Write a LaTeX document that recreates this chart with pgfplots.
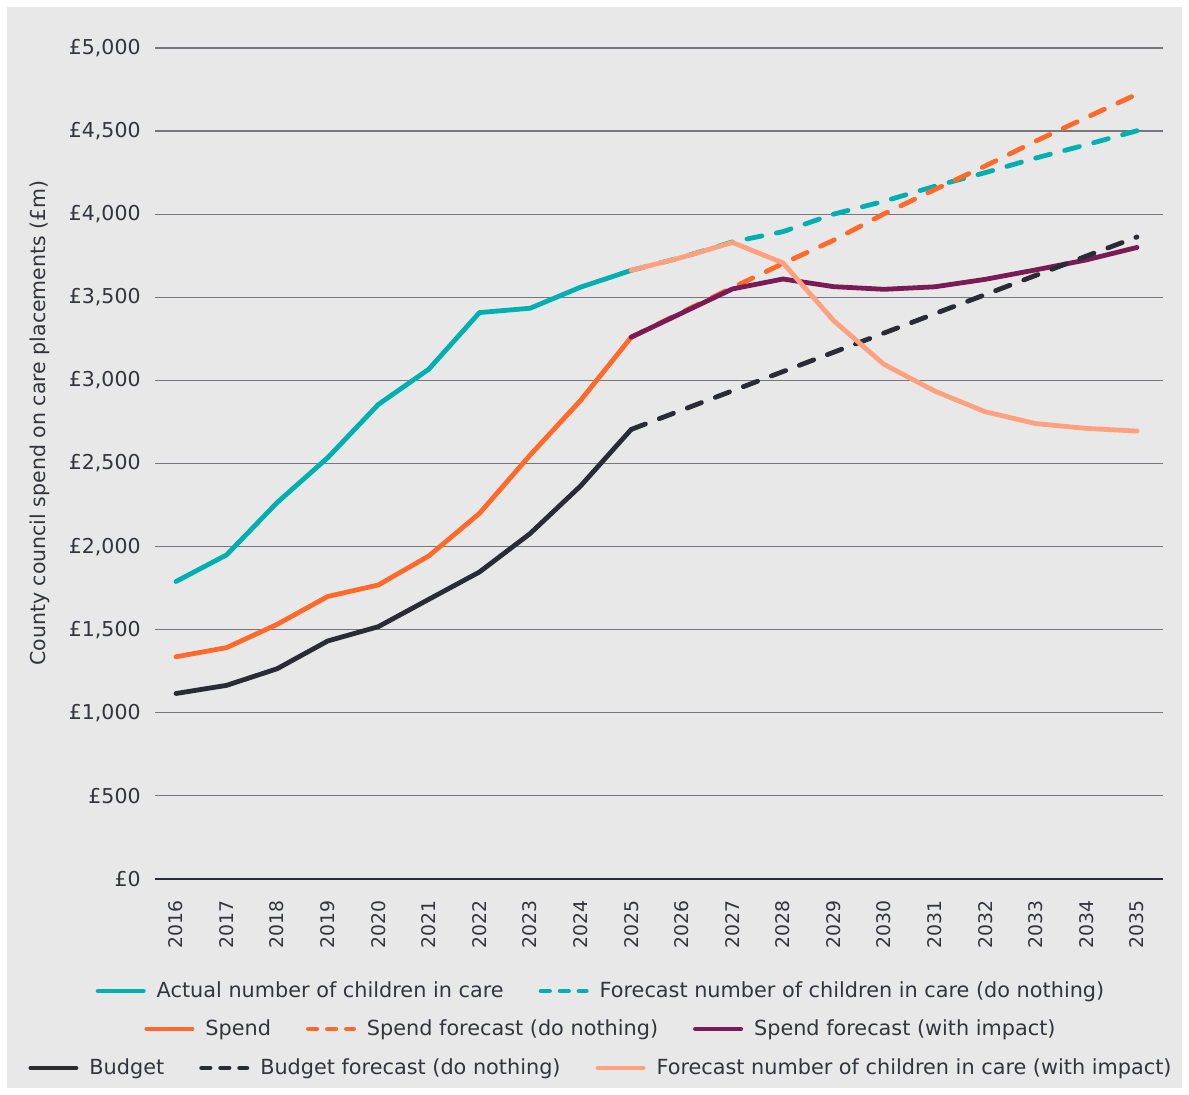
\documentclass[border=0pt]{standalone}
\usepackage{fontspec}
\setmainfont{DejaVu Sans}
\usepackage{pgfplots}
\pgfplotsset{compat=1.18}
\definecolor{cteal}{HTML}{00B0B0}
\definecolor{corange}{HTML}{FF6A2B}
\definecolor{cpurple}{HTML}{7A1B55}
\definecolor{cdark}{HTML}{2A2C35}
\definecolor{csalmon}{HTML}{FFA07E}
\definecolor{cbg}{HTML}{E8E8E8}
\definecolor{cgrid}{HTML}{76777C}
\definecolor{ctext}{HTML}{33353D}
\pgfplotsset{
  legrow/.style={hide axis, scale only axis, width=1pt, height=1pt,
    xmin=0, xmax=1, ymin=0, ymax=1, anchor=center,
    legend style={at={(0.5,0.5)}, anchor=center, draw=none, fill=none,
      legend columns=-1, font=\fontsize{10.4}{12}\selectfont, text=ctext,
      nodes={inner sep=0pt},
      /tikz/every odd column/.append style={column sep=5.5pt},
      /tikz/every even column/.append style={column sep=17.5pt}},
    legend image code/.code={\draw[##1] (1.2pt,0pt) -- (23.8pt,0pt);}},
  ln/.style={line width=2.4pt, line cap=round, line join=round},
  dl/.style={ln, dash pattern=on 4.2pt off 5.3pt},
  dp/.style={ln, dash pattern=on 7.6pt off 7.4pt},
}
\begin{document}
\begin{tikzpicture}[x=1pt,y=1pt]
\useasboundingbox (0,0) rectangle (594.5,547.5);
\fill[white] (0,0) rectangle (594.5,547.5);
\fill[cbg] (3.5,3.5) rectangle (591,544);
\node[rotate=90, text=ctext, font=\fontsize{10.25}{12}\selectfont] at (20,336) {County council spend on care placements (£m)};
\begin{axis}[
  at={(77.5pt,108pt)}, anchor=south west,
  scale only axis, width=504pt, height=415.5pt,
  xmin=2015.585, xmax=2035.514, ymin=0, ymax=5000,
  axis line style={draw=none}, major tick length=0pt,
  ytick={0,500,...,5000},
  yticklabels={£0,£500,{£1,000},{£1,500},{£2,000},{£2,500},{£3,000},{£3,500},{£4,000},{£4,500},{£5,000}},
  xtick={2016,...,2035},
  xticklabels={2016,2017,2018,2019,2020,2021,2022,2023,2024,2025,2026,2027,2028,2029,2030,2031,2032,2033,2034,2035},
  yticklabel style={anchor=east, inner sep=0pt, text=ctext, font=\fontsize{10.25}{12}\selectfont},
  yticklabel shift=7pt,
  xticklabel style={rotate=90, anchor=east, inner sep=0pt, text=ctext, font=\fontsize{9.4}{11}\selectfont},
  xticklabel shift=10.5pt,
  ymajorgrids, grid style={cgrid, line width=0.6pt},
  extra y ticks={0}, extra y tick labels={}, extra y tick style={grid style={cdark, line width=0.7pt}},
]
\addplot[ln, cteal] coordinates {(2016,1790)(2017,1950)(2018,2265)(2019,2535)(2020,2855)(2021,3068)(2022,3408)(2023,3434)(2024,3561)(2025,3662)};
\addplot[dp, cteal] coordinates {(2025,3662)(2026,3740)(2027,3833)(2028,3895)(2029,4000)(2030,4078)(2031,4168)(2032,4250)(2033,4338)(2034,4418)(2035,4502)};
\addplot[ln, corange] coordinates {(2016,1337)(2017,1392)(2018,1532)(2019,1700)(2020,1769)(2021,1944)(2022,2200)(2023,2550)(2024,2880)(2025,3260)};
\addplot[dp, corange] coordinates {(2025,3260)(2026,3410)(2027,3558)(2028,3703)(2029,3843)(2030,4002)(2031,4148)(2032,4290)(2033,4440)(2034,4582)(2035,4722)};
\addplot[ln, cpurple] coordinates {(2025,3260)(2026,3405)(2027,3550)(2028,3610)(2029,3564)(2030,3548)(2031,3563)(2032,3608)(2033,3665)(2034,3725)(2035,3800)};
\addplot[ln, cdark] coordinates {(2016,1116)(2017,1165)(2018,1265)(2019,1432)(2020,1518)(2021,1683)(2022,1847)(2023,2078)(2024,2365)(2025,2705)};
\addplot[dp, cdark] coordinates {(2025,2705)(2026,2821)(2027,2937)(2028,3053)(2029,3169)(2030,3285)(2031,3401)(2032,3516)(2033,3632)(2034,3748)(2035,3863)};
\addplot[ln, csalmon] coordinates {(2025,3662)(2026,3740)(2027,3830)(2028,3707)(2029,3360)(2030,3096)(2031,2936)(2032,2811)(2033,2740)(2034,2711)(2035,2695)};
\end{axis}
\begin{axis}[legrow, at={(300pt,52pt)}]
\addlegendimage{ln, cteal}\addlegendentry{Actual number of children in care}
\addlegendimage{dl, cteal}\addlegendentry{Forecast number of children in care (do nothing)}
\end{axis}
\begin{axis}[legrow, at={(300pt,33pt)}]
\addlegendimage{ln, corange}\addlegendentry{Spend}
\addlegendimage{dl, corange}\addlegendentry{Spend forecast (do nothing)}
\addlegendimage{ln, cpurple}\addlegendentry{Spend forecast (with impact)}
\end{axis}
\begin{axis}[legrow, at={(300pt,13.5pt)}]
\addlegendimage{ln, cdark}\addlegendentry{Budget}
\addlegendimage{dl, cdark}\addlegendentry{Budget forecast (do nothing)}
\addlegendimage{ln, csalmon}\addlegendentry{Forecast number of children in care (with impact)}
\end{axis}
\end{tikzpicture}
\end{document}
